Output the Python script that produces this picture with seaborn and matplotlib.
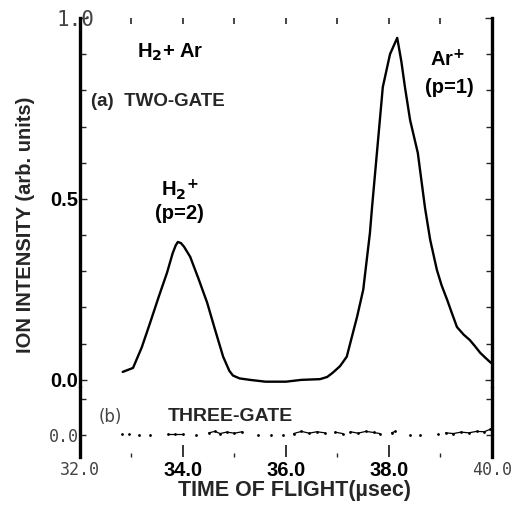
import matplotlib
matplotlib.use("Agg")
import matplotlib.pyplot as plt
from matplotlib.ticker import FixedLocator, MultipleLocator
from matplotlib.transforms import ScaledTranslation
import pandas as pd
import seaborn as sns

# (a) two-gate spectrum
tof_a = [32.83, 33.03, 33.20, 33.36, 33.53, 33.69, 33.80, 33.86, 33.90, 33.96,
         34.02, 34.14, 34.30, 34.47, 34.62, 34.78, 34.90, 34.97, 35.10, 35.30,
         35.60, 36.00, 36.30, 36.66, 36.80, 36.91, 37.05, 37.18, 37.38, 37.50,
         37.63, 37.67, 37.78, 37.88, 38.02, 38.16, 38.24, 38.31, 38.41, 38.56,
         38.70, 38.80, 38.93, 39.02, 39.13, 39.22, 39.32, 39.45, 39.57, 39.67,
         39.77, 39.88, 39.98]
intensity_a = [0.022, 0.033, 0.090, 0.157, 0.230, 0.296, 0.350, 0.372, 0.381, 0.378,
               0.368, 0.340, 0.280, 0.213, 0.140, 0.064, 0.025, 0.012, 0.004, 0.000,
               -0.005, -0.005, 0.000, 0.002, 0.008, 0.020, 0.038, 0.064, 0.174, 0.249,
               0.406, 0.475, 0.650, 0.809, 0.900, 0.945, 0.880, 0.809, 0.718, 0.627,
               0.475, 0.387, 0.304, 0.262, 0.221, 0.185, 0.146, 0.125, 0.110, 0.093,
               0.075, 0.060, 0.047]

# (b) three-gate spectrum; segment 0 = isolated dots
tof_b = [32.82, 32.95, 33.15, 33.35, 33.70, 33.85, 34.00, 34.25, 34.50, 34.62,
         34.72, 34.85, 35.00, 35.15, 35.45, 35.70, 35.95, 36.15, 36.30, 36.45,
         36.60, 36.75, 36.95, 37.10, 37.25, 37.40, 37.55, 37.70, 37.82, 38.05,
         38.12, 38.40, 38.60, 38.95, 39.10, 39.25, 39.40, 39.55, 39.70, 39.85,
         39.97]
intensity_b = [0.004, 0.002, 0.001, 0.001, 0.003, 0.003, 0.003, 0.000, 0.006, 0.010,
               0.004, 0.008, 0.005, 0.009, 0.000, 0.001, 0.001, 0.004, 0.010, 0.005,
               0.009, 0.006, 0.008, 0.004, 0.009, 0.005, 0.010, 0.007, 0.004, 0.006,
               0.010, 0.001, 0.001, 0.004, 0.006, 0.004, 0.008, 0.006, 0.010, 0.009,
               0.016]
segment_b = [0, 0, 0, 0, 1, 1, 1, 0, 2, 2,
             2, 2, 2, 2, 0, 0, 0, 3, 3, 3,
             3, 3, 4, 4, 5, 5, 5, 5, 5, 6,
             6, 0, 0, 0, 7, 7, 7, 7, 7, 7,
             7]

x_ticks = [32.0, 34.0, 36.0, 38.0, 40.0]
x_labels = ["32.0", "34.0", "36.0", "38.0", "40.0"]
ya_ticks = [0.0, 0.5, 1.0]
ya_labels = ["0.0", "0.5", "1.0"]

df_a = pd.DataFrame({"tof": tof_a, "intensity": intensity_a})
df_b = pd.DataFrame({"tof": tof_b, "intensity": intensity_b, "seg": segment_b})

sns.set_style("white")
plt.rcParams["font.family"] = ["Liberation Sans", "DejaVu Sans"]

fig = plt.figure(figsize=(5.15, 5.05), dpi=100)
ax_a = fig.add_axes([0.1553, 0.2356, 0.80, 0.7288])
ax_b = fig.add_axes([0.1553, 0.0950, 0.80, 0.1366])

light = dict(family="DejaVu Sans Mono", color="#444444", fontsize=12)
bold = dict(family="Liberation Sans", weight="bold", color="black", fontsize=14.5)

# panel (a)
sns.lineplot(data=df_a, x="tof", y="intensity", ax=ax_a, color="black", lw=1.7)
ax_a.set_xlim(32.0, 40.0)
ax_a.set_ylim(-0.017, 1.0)
ax_a.set_xlabel("")
ax_a.set_ylabel("")
ax_a.set_yticks(ya_ticks)
ax_a.set_yticklabels(ya_labels)
ax_a.yaxis.set_minor_locator(MultipleLocator(0.1))
ax_a.set_xticks([])
ax_a.xaxis.set_minor_locator(FixedLocator([33, 34, 35, 36, 37, 38, 39]))
ax_a.tick_params(axis="x", which="minor", top=True, bottom=False, direction="in",
                 length=4, width=1.2)
ax_a.tick_params(axis="y", which="both", left=True, right=True, direction="in",
                 width=1.0, pad=1)
ax_a.tick_params(axis="y", which="major", length=5)
ax_a.tick_params(axis="y", which="minor", length=4)
for side in ["top", "bottom"]:
    ax_a.spines[side].set_visible(False)
for side in ["left", "right"]:
    ax_a.spines[side].set_linewidth(2.4)
    ax_a.spines[side].set_color("black")
for lab in ax_a.get_yticklabels():
    if lab.get_text() == "1.0":
        lab.set(**light)
        lab.set_fontsize(15)
        lab.set_transform(lab.get_transform() + ScaledTranslation(0.16, 0, fig.dpi_scale_trans))
    else:
        lab.set(**bold)

ax_a.text(33.75, 0.905, "H$_\\mathbf{2}$+ Ar", ha="center", va="center", **bold)
ax_a.text(32.21, 0.77, "(a)  TWO-GATE", ha="left", va="center",
          family="Liberation Sans", weight="bold", fontsize=13.5)
ax_a.text(33.94, 0.525, "H$_\\mathbf{2}$$^\\mathbf{+}$", ha="center", va="center", **bold)
ax_a.text(33.94, 0.461, "(p=2)", ha="center", va="center", **bold)
ax_a.text(39.13, 0.884, "Ar$^\\mathbf{+}$", ha="center", va="center", **bold)
ax_a.text(39.18, 0.807, "(p=1)", ha="center", va="center", **bold)

# panel (b)
sns.lineplot(data=df_b[df_b["seg"] > 0], x="tof", y="intensity", units="seg",
             estimator=None, ax=ax_b, color="black", lw=0.9)
sns.scatterplot(data=df_b, x="tof", y="intensity", ax=ax_b, color="black",
                s=4, linewidth=0)
ax_b.set_xlim(32.0, 40.0)
ax_b.set_ylim(-0.061, 0.13)
ax_b.set_xlabel("")
ax_b.set_ylabel("")
ax_b.set_yticks([0.0])
ax_b.set_yticklabels(["0.0"])
ax_b.yaxis.set_minor_locator(MultipleLocator(0.1))
ax_b.set_xticks(x_ticks)
ax_b.set_xticklabels(x_labels)
ax_b.xaxis.set_minor_locator(FixedLocator([33, 35, 37, 39]))
ax_b.tick_params(axis="x", which="major", bottom=True, direction="in", length=9,
                 width=1.3, pad=3)
ax_b.tick_params(axis="x", which="minor", bottom=True, direction="in", length=3,
                 width=1.0)
ax_b.tick_params(axis="y", which="both", left=True, right=True, direction="in",
                 length=4, width=1.0, pad=1)
for side in ["top", "bottom"]:
    ax_b.spines[side].set_visible(False)
for side in ["left", "right"]:
    ax_b.spines[side].set_linewidth(2.4)
    ax_b.spines[side].set_color("black")
for lab in ax_b.get_yticklabels():
    lab.set(**light)
for lab in ax_b.get_xticklabels():
    if lab.get_text() in ("32.0", "40.0"):
        lab.set(**light)
    else:
        lab.set(**bold)

ax_b.text(32.58, 0.05, "(b)", ha="center", va="center", family="DejaVu Sans",
          color="#444444", fontsize=12)
ax_b.text(34.93, 0.05, "THREE-GATE", ha="center", va="center",
          family="Liberation Sans", weight="bold", fontsize=14)

fig.text(0.05, 0.555, "ION INTENSITY (arb. units)", rotation=90, ha="center",
         va="center", family="Liberation Sans", weight="bold", fontsize=14.5)
fig.text(0.571, 0.028, "TIME OF FLIGHT(\u00b5sec)", ha="center", va="center",
         family="Liberation Sans", weight="bold", fontsize=15.5)

fig.savefig("out.png", dpi=100)
